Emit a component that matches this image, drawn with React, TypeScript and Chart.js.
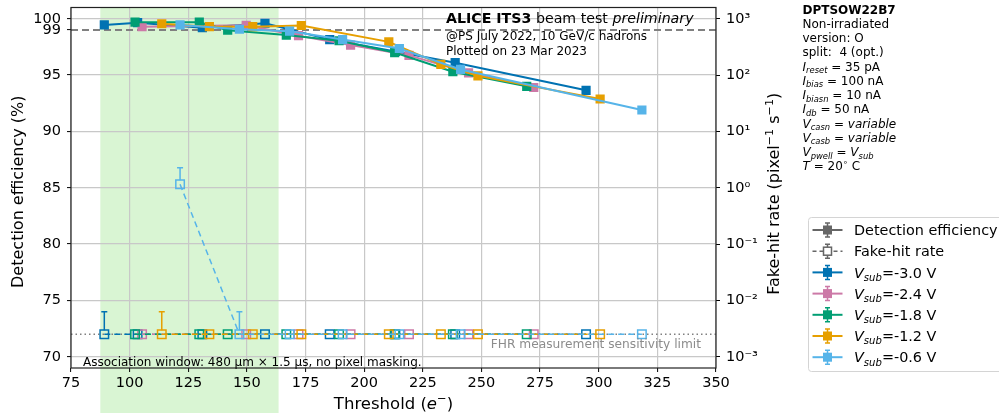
import React, { useEffect, useRef } from 'react';
import { Chart, registerables } from 'chart.js';

Chart.register(...registerables);

// ---------------- data ----------------
const X_TICKS = [75, 100, 125, 150, 175, 200, 225, 250, 275, 300, 325, 350];
const EFF_TICKS = [70, 75, 80, 85, 90, 95, 100];
const EFF_REF = 99;
const FHR_TICKS = [1e-3, 1e-2, 1e-1, 1, 1e1, 1e2, 1e3];
const FHR_TICK_LABELS = ['10⁻³', '10⁻²', '10⁻¹', '10⁰', '10¹', '10²', '10³'];
const FHR_LIMIT = 0.00251;
const GOOD_RANGE = [87.5, 163.5];

const VSUB_LABELS = ['-3.0', '-2.4', '-1.8', '-1.2', '-0.6'];
const COLORS = ['#0072B2', '#CC79A7', '#009E73', '#E69F00', '#56B4E9'];

const THR_M30 = [89.2, 103.4, 131.0, 157.7, 185.3, 213.3, 238.8, 294.6];
const EFF_M30 = [99.45, 99.65, 99.2, 99.6, 98.15, 97.1, 96.1, 93.65];
const FHR_M30 = [0.00251, 0.00251, 0.00251, 0.00251, 0.00251, 0.00251, 0.00251, 0.00251];
const FHR_UP_M30 = [0.0063, null, null, null, null, null, null, null];

const THR_M24 = [105.3, 149.7, 172.0, 194.2, 219.1, 244.5, 272.3];
const EFF_M24 = [99.3, 99.42, 98.5, 97.66, 96.75, 95.2, 93.9];
const FHR_M24 = [0.00251, 0.00251, 0.00251, 0.00251, 0.00251, 0.00251, 0.00251];
const FHR_UP_M24 = [null, null, null, null, null, null, null];

const THR_M18 = [102.3, 129.7, 141.8, 166.8, 189.3, 213.0, 237.8, 269.3];
const EFF_M18 = [99.7, 99.7, 98.98, 98.55, 98.05, 97.0, 95.3, 94.0];
const FHR_M18 = [0.00251, 0.00251, 0.00251, 0.00251, 0.00251, 0.00251, 0.00251, 0.00251];
const FHR_UP_M18 = [null, null, null, null, null, null, null, null];

const THR_M12 = [113.7, 134.0, 152.5, 173.2, 210.5, 232.7, 248.5, 300.6];
const EFF_M12 = [99.56, 99.3, 99.3, 99.4, 97.95, 95.95, 94.93, 92.88];
const FHR_M12 = [0.00251, 0.00251, 0.00251, 0.00251, 0.00251, 0.00251, 0.00251, 0.00251];
const FHR_UP_M12 = [0.0063, null, null, null, null, null, null, null];

const THR_M06 = [121.5, 146.8, 168.2, 190.8, 215.0, 241.1, 318.4];
const EFF_M06 = [99.45, 99.07, 98.9, 98.15, 97.36, 95.5, 91.9];
const FHR_M06 = [1.15, 0.00251, 0.00251, 0.00251, 0.00251, 0.00251, 0.00251];
const FHR_UP_M06 = [2.27, 0.0063, null, null, null, null, null];

const SERIES = [
  { thr: THR_M30, eff: EFF_M30, fhr: FHR_M30, up: FHR_UP_M30 },
  { thr: THR_M24, eff: EFF_M24, fhr: FHR_M24, up: FHR_UP_M24 },
  { thr: THR_M18, eff: EFF_M18, fhr: FHR_M18, up: FHR_UP_M18 },
  { thr: THR_M12, eff: EFF_M12, fhr: FHR_M12, up: FHR_UP_M12 },
  { thr: THR_M06, eff: EFF_M06, fhr: FHR_M06, up: FHR_UP_M06 },
];

const INFO_LINES = [
  [{ t: 'DPTSOW22B7', b: true }],
  [{ t: 'Non-irradiated' }],
  [{ t: 'version: O' }],
  [{ t: 'split:  4 (opt.)' }],
  [{ t: 'I', i: true }, { t: 'reset', i: true, sub: true }, { t: ' = 35 pA' }],
  [{ t: 'I', i: true }, { t: 'bias', i: true, sub: true }, { t: ' = 100 nA' }],
  [{ t: 'I', i: true }, { t: 'biasn', i: true, sub: true }, { t: ' = 10 nA' }],
  [{ t: 'I', i: true }, { t: 'db', i: true, sub: true }, { t: ' = 50 nA' }],
  [{ t: 'V', i: true }, { t: 'casn', i: true, sub: true }, { t: ' = ' }, { t: 'variable', i: true }],
  [{ t: 'V', i: true }, { t: 'casb', i: true, sub: true }, { t: ' = ' }, { t: 'variable', i: true }],
  [{ t: 'V', i: true }, { t: 'pwell', i: true, sub: true }, { t: ' = ' }, { t: 'V', i: true }, { t: 'sub', i: true, sub: true }],
  [{ t: 'T', i: true }, { t: ' = 20' }, { t: '∘', sup: true }, { t: ' C' }],
];

// ---------------- text helpers ----------------
type Seg = { t: string; b?: boolean; i?: boolean; sub?: boolean; sup?: boolean };
const FAMILY = '"DejaVu Sans"';

function fontOf(s: Seg, size: number) {
  const sz = s.sub || s.sup ? size * 0.7 : size;
  return `${s.i ? 'italic ' : ''}${s.b ? 'bold ' : ''}${sz}px ${FAMILY}`;
}
function richWidth(ctx: CanvasRenderingContext2D, segs: Seg[], size: number) {
  let w = 0;
  for (const s of segs) {
    ctx.font = fontOf(s, size);
    w += ctx.measureText(s.t).width;
  }
  return w;
}
function drawRich(
  ctx: CanvasRenderingContext2D,
  segs: Seg[],
  x: number,
  y: number,
  size: number,
  color: string,
  align: 'left' | 'center' | 'right' = 'left'
) {
  const w = richWidth(ctx, segs, size);
  let cx = align === 'left' ? x : align === 'center' ? x - w / 2 : x - w;
  ctx.fillStyle = color;
  ctx.textBaseline = 'alphabetic';
  ctx.textAlign = 'left';
  for (const s of segs) {
    ctx.font = fontOf(s, size);
    const dy = s.sub ? size * 0.22 : s.sup ? -size * 0.4 : 0;
    ctx.fillText(s.t, cx, y + dy);
    cx += ctx.measureText(s.t).width;
  }
}

function drawMarker(ctx: CanvasRenderingContext2D, x: number, y: number, color: string, open: boolean, dashed: boolean) {
  ctx.save();
  ctx.strokeStyle = color;
  ctx.lineWidth = dashed ? 1.5 : 2;
  if (dashed) ctx.setLineDash([4, 3]);
  ctx.beginPath();
  ctx.moveTo(x - 15, y);
  ctx.lineTo(x + 15, y);
  ctx.stroke();
  ctx.setLineDash([]);
  ctx.lineWidth = 1.5;
  ctx.beginPath();
  ctx.moveTo(x, y - 7);
  ctx.lineTo(x, y + 7);
  ctx.moveTo(x - 2.5, y - 7);
  ctx.lineTo(x + 2.5, y - 7);
  ctx.moveTo(x - 2.5, y + 7);
  ctx.lineTo(x + 2.5, y + 7);
  ctx.stroke();
  if (open) {
    ctx.fillStyle = '#fff';
    ctx.fillRect(x - 4, y - 4, 8, 8);
    ctx.strokeRect(x - 4, y - 4, 8, 8);
  } else {
    ctx.fillStyle = color;
    ctx.fillRect(x - 4.5, y - 4.5, 9, 9);
  }
  ctx.restore();
}

const annotPlugin = {
  id: 'annot',
  beforeDraw(chart: any) {
    const { ctx, chartArea, scales } = chart;
    const x0 = scales.x.getPixelForValue(GOOD_RANGE[0]);
    const x1 = scales.x.getPixelForValue(GOOD_RANGE[1]);
    ctx.save();
    ctx.fillStyle = 'rgb(217,245,211)';
    ctx.fillRect(x0, chartArea.top, x1 - x0, chart.height - chartArea.top);
    ctx.restore();
  },
  beforeDatasetsDraw(chart: any) {
    const { ctx, chartArea, scales } = chart;
    ctx.save();
    const y99 = scales.y.getPixelForValue(EFF_REF);
    ctx.strokeStyle = '#808080';
    ctx.lineWidth = 2;
    ctx.setLineDash([7, 4]);
    ctx.beginPath();
    ctx.moveTo(chartArea.left, y99);
    ctx.lineTo(chartArea.right, y99);
    ctx.stroke();
    const yl = scales.y2.getPixelForValue(FHR_LIMIT);
    ctx.lineWidth = 1.5;
    ctx.setLineDash([1.5, 3]);
    ctx.beginPath();
    ctx.moveTo(chartArea.left, yl);
    ctx.lineTo(chartArea.right, yl);
    ctx.stroke();
    ctx.restore();
  },
  afterDatasetsDraw(chart: any) {
    const { ctx, scales } = chart;
    ctx.save();
    ctx.lineWidth = 1.5;
    SERIES.forEach((s, k) => {
      ctx.strokeStyle = COLORS[k];
      s.up.forEach((u, i) => {
        if (u == null) return;
        const x = scales.x.getPixelForValue(s.thr[i]);
        const y0 = scales.y2.getPixelForValue(s.fhr[i]);
        const y1 = scales.y2.getPixelForValue(u);
        ctx.beginPath();
        ctx.moveTo(x, y0 - 4);
        ctx.lineTo(x, y1);
        ctx.moveTo(x - 3, y1);
        ctx.lineTo(x + 3, y1);
        ctx.stroke();
      });
    });
    ctx.restore();
  },
  afterDraw(chart: any) {
    const { ctx, chartArea } = chart;
    ctx.save();
    // spines
    ctx.strokeStyle = '#222';
    ctx.lineWidth = 1.2;
    ctx.strokeRect(chartArea.left, chartArea.top, chartArea.right - chartArea.left, chartArea.bottom - chartArea.top);

    // axis titles
    const midY = (chartArea.top + chartArea.bottom) / 2;
    ctx.save();
    ctx.translate(23, midY + 4);
    ctx.rotate(-Math.PI / 2);
    drawRich(ctx, [{ t: 'Detection efficiency (%)' }], 0, 0, 16, '#000', 'center');
    ctx.restore();

    ctx.save();
    ctx.translate(779, midY + 6);
    ctx.rotate(-Math.PI / 2);
    drawRich(
      ctx,
      [{ t: 'Fake-hit rate (pixel' }, { t: '−1', sup: true }, { t: ' s' }, { t: '−1', sup: true }, { t: ')' }],
      0,
      0,
      16,
      '#000',
      'center'
    );
    ctx.restore();

    drawRich(
      ctx,
      [{ t: 'Threshold (' }, { t: 'e', i: true }, { t: '−', sup: true }, { t: ')' }],
      (chartArea.left + chartArea.right) / 2,
      409,
      16.5,
      '#000',
      'center'
    );

    // header text
    drawRich(ctx, [{ t: 'ALICE ITS3', b: true }, { t: ' beam test ' }, { t: 'preliminary', i: true }], 446, 22.5, 14.2, '#000');
    drawRich(ctx, [{ t: '@PS July 2022, 10 GeV/c hadrons' }], 446, 39.5, 12, '#000');
    drawRich(ctx, [{ t: 'Plotted on 23 Mar 2023' }], 446, 54.5, 12, '#000');

    drawRich(ctx, [{ t: 'Association window: 480 µm × 1.5 µs, no pixel masking.' }], 83, 366, 12, '#000');
    drawRich(ctx, [{ t: 'FHR measurement sensitivity limit' }], 701, 348, 12.2, '#8c8c8c', 'right');

    // info block
    INFO_LINES.forEach((line, i) => {
      drawRich(ctx, line as Seg[], 802.5, 13.5 + i * 14.25, 12, '#000');
    });

    // legend
    ctx.save();
    ctx.fillStyle = 'rgba(255,255,255,0.85)';
    ctx.strokeStyle = '#d4d4d4';
    ctx.lineWidth = 1;
    ctx.beginPath();
    (ctx as any).roundRect(808.5, 217.5, 210, 154, 3);
    ctx.fill();
    ctx.stroke();
    ctx.restore();

    const items: { segs: Seg[]; color: string; open: boolean; dashed: boolean }[] = [
      { segs: [{ t: 'Detection efficiency' }], color: '#666', open: false, dashed: false },
      { segs: [{ t: 'Fake-hit rate' }], color: '#666', open: true, dashed: true },
      ...VSUB_LABELS.map((v, k) => ({
        segs: [{ t: 'V', i: true }, { t: 'sub', i: true, sub: true }, { t: `=${v} V` }] as Seg[],
        color: COLORS[k],
        open: false,
        dashed: false,
      })),
    ];
    items.forEach((it, i) => {
      const yc = 230 + i * 21.2;
      drawMarker(ctx, 827.5, yc, it.color, it.open, it.dashed);
      drawRich(ctx, it.segs, 854, yc + 5.2, 14.4, '#000');
    });
    ctx.restore();
  },
};

export default function App() {
  const ref = useRef<HTMLCanvasElement>(null);
  useEffect(() => {
    document.body.style.margin = '0';
    const canvas = ref.current!;
    const datasets: any[] = [];
    SERIES.forEach((s, k) => {
      datasets.push({
        label: `eff ${VSUB_LABELS[k]}`,
        data: s.thr.map((x, i) => ({ x, y: s.eff[i] })),
        yAxisID: 'y',
        borderColor: COLORS[k],
        backgroundColor: COLORS[k],
        borderWidth: 2,
        pointStyle: 'rect',
        pointRadius: 6.5,
        pointBorderWidth: 0,
        pointBackgroundColor: COLORS[k],
        order: 4 - k,
      });
    });
    SERIES.forEach((s, k) => {
      datasets.push({
        label: `fhr ${VSUB_LABELS[k]}`,
        data: s.thr.map((x, i) => ({ x, y: s.fhr[i] })),
        yAxisID: 'y2',
        borderColor: COLORS[k],
        backgroundColor: 'rgba(255,255,255,0)',
        borderWidth: 1.5,
        borderDash: [6, 4],
        pointStyle: 'rect',
        pointRadius: 6,
        pointBorderWidth: 1.5,
        pointBorderColor: COLORS[k],
        pointBackgroundColor: 'rgba(255,255,255,0)',
        order: 9 - k,
      });
    });

    const tickFont = { family: 'DejaVu Sans', size: 14.5 };
    const chart = new Chart(canvas, {
      type: 'line',
      data: { datasets },
      plugins: [annotPlugin],
      options: {
        animation: false,
        responsive: false,
        devicePixelRatio: 1,
        events: [],
        layout: { padding: { top: 4, left: 0, right: 0, bottom: 0 } },
        plugins: { legend: { display: false }, tooltip: { enabled: false }, title: { display: false } },
        scales: {
          x: {
            type: 'linear',
            min: 75,
            max: 350,
            bounds: 'data',
            afterBuildTicks: (s: any) => {
              s.ticks = X_TICKS.map((v) => ({ value: v }));
            },
            afterFit: (s: any) => {
              s.height = 45;
              s.paddingLeft = 0;
              s.paddingRight = 0;
            },
            ticks: { font: tickFont, color: '#000', padding: 3, maxRotation: 0, autoSkip: false },
            grid: { color: '#c8c8c8', lineWidth: 1.2, tickColor: '#000', tickLength: 4, tickWidth: 1 },
            border: { display: false },
          },
          y: {
            type: 'linear',
            position: 'left',
            min: 69,
            max: 101,
            bounds: 'data',
            afterBuildTicks: (s: any) => {
              s.ticks = [...EFF_TICKS, EFF_REF].map((v) => ({ value: v }));
            },
            afterFit: (s: any) => {
              s.width = 71;
              s.paddingTop = 0;
              s.paddingBottom = 0;
            },
            ticks: { font: tickFont, color: '#000', padding: 6, autoSkip: false, callback: (v: any) => String(v) },
            grid: {
              color: (c: any) => (c.tick && c.tick.value === EFF_REF ? 'rgba(0,0,0,0)' : '#c8c8c8'),
              lineWidth: 1.2,
              tickColor: '#000',
              tickLength: 4,
              tickWidth: 1,
            },
            border: { display: false },
          },
          y2: {
            type: 'logarithmic',
            position: 'right',
            min: Math.pow(10, -3.2),
            max: Math.pow(10, 3.2),
            bounds: 'data',
            afterBuildTicks: (s: any) => {
              s.ticks = FHR_TICKS.map((v) => ({ value: v }));
            },
            afterFit: (s: any) => {
              s.width = 283;
              s.paddingTop = 0;
              s.paddingBottom = 0;
            },
            ticks: {
              font: tickFont,
              color: '#000',
              padding: 6,
              autoSkip: false,
              callback: (v: any) => FHR_TICK_LABELS[FHR_TICKS.indexOf(v)] ?? '',
            },
            grid: { drawOnChartArea: false, tickColor: '#000', tickLength: 4, tickWidth: 1 },
            border: { display: false },
          },
        },
      } as any,
    });
    return () => chart.destroy();
  }, []);
  return (
    <div style={{ position: 'absolute', left: 0, top: 0, width: 999, height: 413, background: '#fff', overflow: 'hidden' }}>
      <canvas ref={ref} width={999} height={413} style={{ display: 'block', width: 999, height: 413 }} />
    </div>
  );
}
